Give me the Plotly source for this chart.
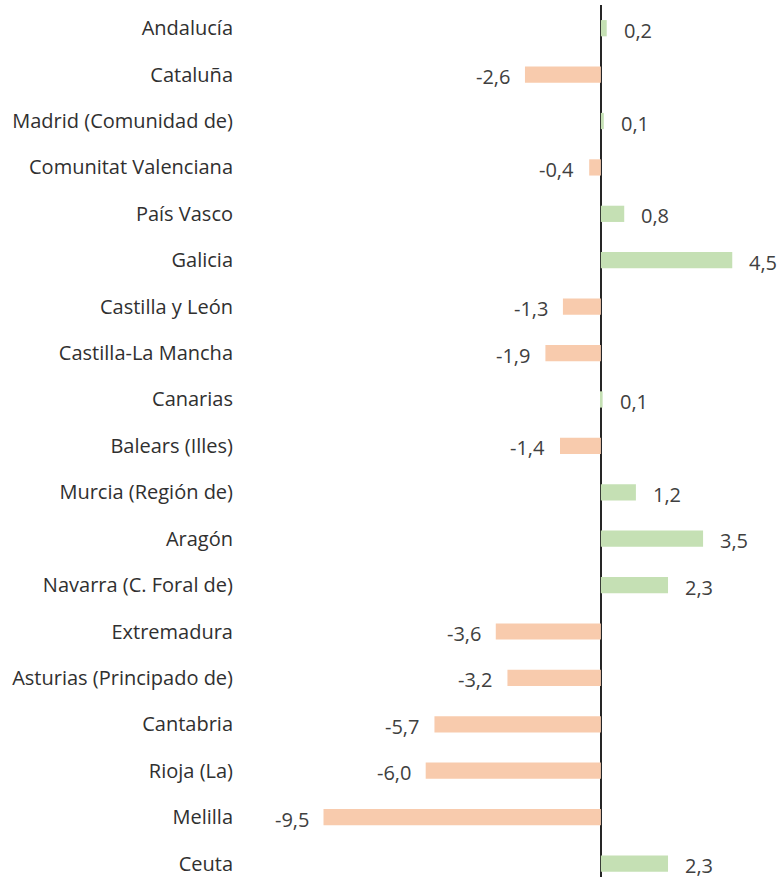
import plotly.graph_objects as go

regiones = ["Andalucía", "Cataluña", "Madrid (Comunidad de)", "Comunitat Valenciana",
            "País Vasco", "Galicia", "Castilla y León", "Castilla-La Mancha", "Canarias",
            "Balears (Illes)", "Murcia (Región de)", "Aragón", "Navarra (C. Foral de)",
            "Extremadura", "Asturias (Principado de)", "Cantabria", "Rioja (La)",
            "Melilla", "Ceuta"]
variacion = [0.2, -2.6, 0.1, -0.4, 0.8, 4.5, -1.3, -1.9, 0.06, -1.4, 1.2, 3.5, 2.3,
             -3.6, -3.2, -5.7, -6.0, -9.5, 2.3]

verde = "#c5e0b4"
naranja = "#f8cbad"
colores = [verde if v >= 0 else naranja for v in variacion]
etiquetas = [f"{v:.1f}".replace(".", ",") for v in variacion]

fuente = "Open Sans"

fig = go.Figure()
fig.add_trace(go.Bar(
    x=variacion, y=regiones, orientation="h",
    marker=dict(color=colores, line=dict(width=0)),
    width=0.35, hoverinfo="skip",
))

for r, v, t in zip(regiones, variacion, etiquetas):
    fig.add_annotation(
        x=v, y=r, text=t, showarrow=False,
        xanchor="left" if v >= 0 else "right",
        xshift=15 if v >= 0 else -13, yshift=-2,
        font=dict(family=fuente, size=20, color="#404040"),
    )

fig.update_layout(
    width=780, height=882,
    margin=dict(l=240, r=20, t=5, b=5),
    paper_bgcolor="white", plot_bgcolor="white",
    showlegend=False,
    font=dict(family=fuente, size=20, color="#303030"),
    xaxis=dict(range=[-12.36, 5.45], showgrid=False, showticklabels=False,
               zeroline=True, zerolinecolor="#262626", zerolinewidth=2),
    yaxis=dict(categoryorder="array", categoryarray=regiones,
               range=[18.29, -0.5], showgrid=False, zeroline=False,
               ticks="", ticklabelstandoff=6),
)

# sin el margen por defecto del <body> y sin barra de herramientas
fig.write_html("out.html", config={"displayModeBar": False},
               post_script="document.body.style.margin='0';")
